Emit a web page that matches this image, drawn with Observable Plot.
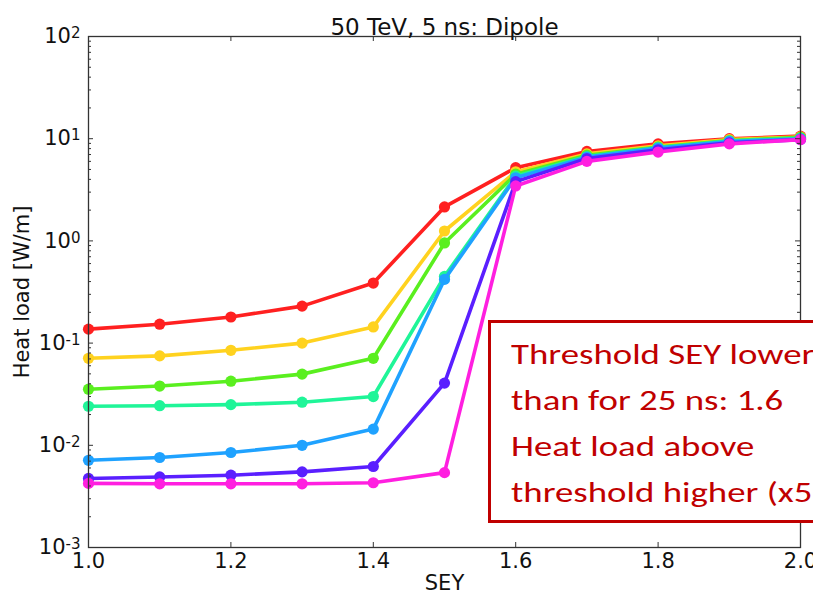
<!DOCTYPE html>
<html>
<head>
<meta charset="utf-8">
<script src="https://cdn.jsdelivr.net/npm/d3@7"></script>
<script src="https://cdn.jsdelivr.net/npm/@observablehq/plot@0.6"></script>
<style>
  html, body { margin: 0; padding: 0; background: #fff; overflow: hidden; }
  #wrap { position: relative; width: 813px; height: 601px; overflow: hidden; }
  #note {
    position: absolute; left: 488px; top: 320px; width: 400px; height: 189px;
    border: 3px solid #c00000; background: #fff; color: #c00000;
    padding: 8px 0 0 20px; box-sizing: content-box; white-space: nowrap; overflow: hidden;
  }
  #noteText {
    font-family: Carlito, Calibri, Lato, "Open Sans", sans-serif; font-size: 29px;
    line-height: 46px; transform: scaleX(1.27); transform-origin: 0 0;
  }
</style>
</head>
<body>
<div id="wrap"></div>
<script>
// ---- data ----
const sey = [1.0, 1.1, 1.2, 1.3, 1.4, 1.5, 1.6, 1.7, 1.8, 1.9, 2.0];
const heatRed     = [0.137, 0.153, 0.18, 0.23, 0.387, 2.15, 5.2, 7.5, 8.9, 10.0, 10.6];
const heatYellow  = [0.071, 0.075, 0.085, 0.10, 0.144, 1.25, 4.75, 7.1, 8.5, 9.8, 10.4];
const heatGreen   = [0.0354, 0.038, 0.0424, 0.0497, 0.071, 0.955, 4.5, 6.9, 8.3, 9.6, 10.3];
const heatTeal    = [0.0241, 0.0244, 0.025, 0.0264, 0.030, 0.45, 4.3, 6.7, 8.2, 9.5, 10.1];
const heatBlue    = [0.00713, 0.0076, 0.0085, 0.0100, 0.0144, 0.42, 4.15, 6.6, 8.1, 9.4, 10.0];
const heatPurple  = [0.00474, 0.0049, 0.0051, 0.0055, 0.0062, 0.0406, 3.8, 6.4, 7.8, 9.1, 9.8];
const heatMagenta = [0.00424, 0.0042, 0.0042, 0.0042, 0.0043, 0.0054, 3.45, 6.0, 7.4, 8.9, 9.8];
const seriesList = [heatRed, heatYellow, heatGreen, heatTeal, heatBlue, heatPurple, heatMagenta];
const seriesColors = ["#ff2020", "#ffd21f", "#5aef1f", "#1ff598", "#1fa2ff", "#5a1fff", "#ff1fe0"];
const xTicks = [1.0, 1.2, 1.4, 1.6, 1.8, 2.0];
const yTicks = [1e-3, 1e-2, 1e-1, 1e0, 1e1, 1e2];
const yMinor = [];
for (let e = -3; e < 2; e++) for (let m = 2; m <= 9; m++) yMinor.push(m * Math.pow(10, e));
const titleText = "50 TeV, 5 ns: Dipole";
const xLabel = "SEY";
const yLabel = "Heat load [W/m]";
const noteLines = ["Threshold SEY lower", "than for 25 ns: 1.6", "Heat load above", "threshold higher (x5)"];

// ---- build ----
const W = 813, H = 601, ML = 88, MR = 13, MT = 36, MB = 54;
const PW = W - ML - MR, PH = H - MT - MB;
const rows = [];
seriesList.forEach((s, i) => s.forEach((v, j) => rows.push({x: sey[j], y: v, s: i})));

const marks = [];
seriesList.forEach((s, i) => {
  const d = rows.filter(r => r.s === i);
  marks.push(Plot.line(d, {x: "x", y: "y", stroke: seriesColors[i], strokeWidth: 3.6}));
  marks.push(Plot.dot(d, {x: "x", y: "y", fill: seriesColors[i], r: 5.6}));
});

const chart = Plot.plot({
  width: W, height: H,
  marginLeft: ML, marginRight: MR, marginTop: MT, marginBottom: MB,
  style: {fontFamily: "DejaVu Sans", background: "#fff", overflow: "visible", color: "#111"},
  x: {type: "linear", domain: [1, 2]},
  y: {type: "log", domain: [1e-3, 1e2]},
  marks: [
    ...marks,
    Plot.frame({stroke: "#333", strokeWidth: 1.3}),
    Plot.tickY(yTicks, {y: d => d, insetRight: PW - 5, stroke: "#333"}),
    Plot.tickY(yTicks, {y: d => d, insetLeft: PW - 5, stroke: "#333"}),
    Plot.tickY(yMinor, {y: d => d, insetRight: PW - 3, stroke: "#333"}),
    Plot.tickY(yMinor, {y: d => d, insetLeft: PW - 3, stroke: "#333"}),
    Plot.tickX(xTicks, {x: d => d, insetTop: PH - 5, stroke: "#333"}),
    Plot.tickX(xTicks, {x: d => d, insetBottom: PH - 5, stroke: "#333"}),
    Plot.axisX({ticks: xTicks, tickSize: 0, tickPadding: 6, fontSize: 21, tickFormat: d => d.toFixed(1), label: null}),
    Plot.axisY({ticks: yTicks, tickSize: 0, tickPadding: 8, fontSize: 21, tickFormat: d => String(Math.round(Math.log10(d))), label: null}),
    Plot.text([titleText], {frameAnchor: "top", dy: -18, dx: 0, fontSize: 23, fill: "#111"}),
    Plot.text([xLabel], {frameAnchor: "bottom", dy: 42, fontSize: 21, fill: "#111"}),
    Plot.text([yLabel], {frameAnchor: "left", dx: -66, rotate: -90, textAnchor: "middle", fontSize: 21, fill: "#111"})
  ]
});

// superscript exponents
d3.select(chart).selectAll('g[aria-label="y-axis tick label"] text').each(function() {
  const t = d3.select(this);
  const e = t.text();
  t.text("");
  t.append("tspan").text("10");
  t.append("tspan").attr("dy", "-5").attr("font-size", "15").text(e);
});

const wrap = document.getElementById("wrap");
wrap.appendChild(chart);
chart.style.position = "absolute"; chart.style.left = "0"; chart.style.top = "0";

const note = document.createElement("div");
note.id = "note";
note.innerHTML = '<div id="noteText">' + noteLines.map(l => `<div>${l}</div>`).join("") + '</div>';
wrap.appendChild(note);
</script>
</body>
</html>
